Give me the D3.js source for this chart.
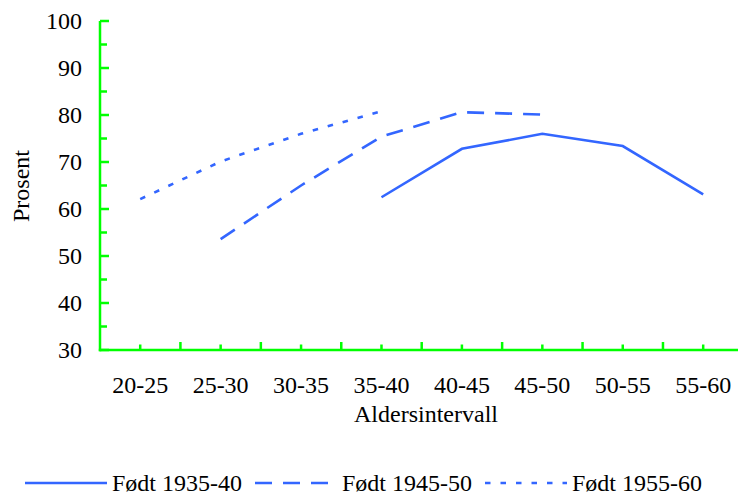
<!DOCTYPE html>
<html><head><meta charset="utf-8">
<script src="https://cdn.jsdelivr.net/npm/d3@7"></script>
<style>body{margin:0;background:#fff}svg{display:block}</style>
</head><body><svg id="c" width="738" height="495" font-family="'Liberation Serif', 'Times New Roman', Times, serif"></svg>
<script>
const categories = ["20-25","25-30","30-35","35-40","40-45","45-50","50-55","55-60"];
const seriesNames = ["Født 1935-40","Født 1945-50","Født 1955-60"];
const born1935 = [null,null,null,62.5,72.8,76.0,73.4,63.1];
const born1945 = [null,53.6,65.0,75.4,80.6,80.1,null,null];
const born1955 = [62.1,70.1,76.0,80.8,null,null,null,null];
const yTicks = [30,40,50,60,70,80,90,100];
const yMinor = [35,45,55,65,75,85,95];
const xTitle = "Aldersintervall";
const yTitle = "Prosent";

const FONT = "'Liberation Serif', 'Times New Roman', Times, serif";
const svg = d3.select("#c");
const blue = "#3366ff", green = "#00ff00";
const x = d3.scaleBand().domain(categories).range([100, 743.4]).padding(0);
const y = d3.scaleLinear().domain([30,100]).range([350,21]);
const step = x.step();
const cx = c => x(c) + step/2;

// axes
const g = svg.append("g");
g.append("line").attr("x1",100).attr("x2",100).attr("y1",y(100)).attr("y2",y(30)+1.2)
 .attr("stroke",green).attr("stroke-width",2.5);
g.append("line").attr("x1",98.8).attr("x2",738).attr("y1",y(30)).attr("y2",y(30))
 .attr("stroke",green).attr("stroke-width",2.5);
g.selectAll(".ymaj").data(yTicks).join("line").attr("x1",100).attr("x2",109)
 .attr("y1",d=>y(d)).attr("y2",d=>y(d)).attr("stroke",green).attr("stroke-width",2.5);
g.selectAll(".ymin").data(yMinor).join("line").attr("x1",100).attr("x2",107)
 .attr("y1",d=>y(d)).attr("y2",d=>y(d)).attr("stroke",green).attr("stroke-width",2.5);
g.selectAll(".xc").data(categories).join("line").attr("x1",d=>cx(d)).attr("x2",d=>cx(d))
 .attr("y1",y(30)).attr("y2",y(30)-5.5).attr("stroke",green).attr("stroke-width",2.5);
g.selectAll(".xb").data(categories.slice(1)).join("line").attr("x1",d=>x(d)).attr("x2",d=>x(d))
 .attr("y1",y(30)).attr("y2",y(30)-8).attr("stroke",green).attr("stroke-width",2.5);

const txt = sel => sel.attr("font-family",FONT).attr("font-size",24).attr("fill","#000");

svg.selectAll(".yl").data(yTicks).join("text").attr("x",82).attr("y",d=>y(d))
 .attr("dy","0.34em").attr("text-anchor","end").call(txt).text(d=>d);
svg.selectAll(".xl").data(categories).join("text").attr("x",d=>cx(d)).attr("y",393)
 .attr("text-anchor","middle").call(txt).text(d=>d);
svg.append("text").attr("x",426).attr("y",422).attr("text-anchor","middle").call(txt).text(xTitle);
svg.append("text").attr("transform","translate(29,186) rotate(-90)").attr("text-anchor","middle").call(txt).text(yTitle);

const dashes = [null,"17,11","5.5,10"];
const series = [born1935, born1945, born1955];
const line = d3.line().defined(d=>d.v!=null).x(d=>cx(d.c)).y(d=>y(d.v));
series.forEach((s,i)=>{
  svg.append("path").datum(categories.map((c,j)=>({c,v:s[j]})))
   .attr("d",line).attr("fill","none").attr("stroke",blue).attr("stroke-width",2.6)
   .attr("stroke-dasharray",dashes[i]);
});

const legX = [[25,107],[255,328],[485,567]];
const legTx = [112,342,572];
seriesNames.forEach((n,i)=>{
  svg.append("line").attr("x1",legX[i][0]).attr("x2",legX[i][1]).attr("y1",483).attr("y2",483)
   .attr("stroke",blue).attr("stroke-width",2.6).attr("stroke-dasharray",dashes[i]);
  svg.append("text").attr("x",legTx[i]).attr("y",491).call(txt).text(n);
});
</script></body></html>
